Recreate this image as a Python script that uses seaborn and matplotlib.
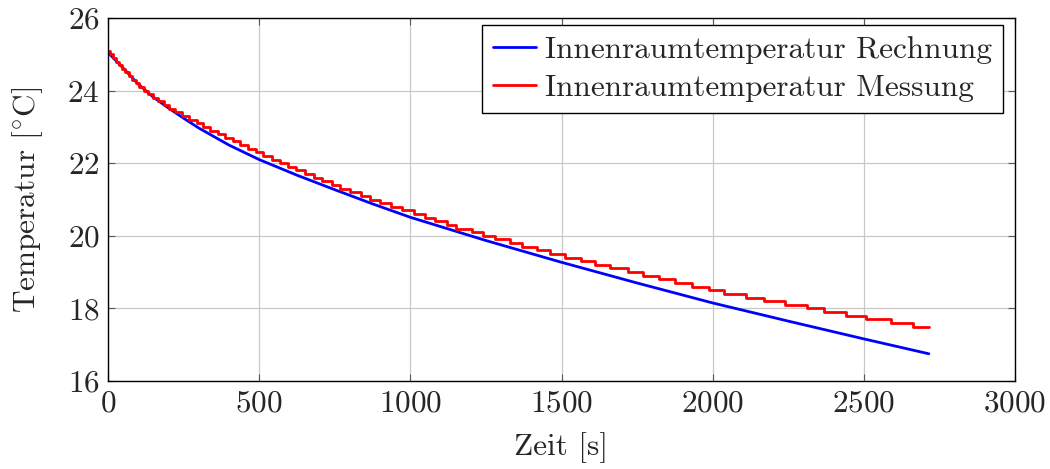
import matplotlib
matplotlib.use("Agg")
import matplotlib.pyplot as plt
import seaborn as sns
import pandas as pd

# Berechnete Innenraumtemperatur (Rechnung)
calc_time = [0, 50, 100, 150, 200, 250, 300, 400, 500, 625, 750, 875, 1000,
             1250, 1500, 1750, 2000, 2250, 2500, 2715]
calc_temp = [25.05, 24.62, 24.18, 23.82, 23.52, 23.24, 22.97, 22.50, 22.10,
             21.67, 21.27, 20.88, 20.51, 19.87, 19.27, 18.70, 18.15, 17.65,
             17.16, 16.75]

# Gemessene Innenraumtemperatur (Messung, 0.1 K Auflösung, Stufen)
meas_time = [0, 6, 16, 26, 36, 46, 57, 68, 80, 92, 104, 118, 133, 149, 166,
             184, 203, 223, 244, 268, 293, 314, 338, 363, 387, 412, 437, 463,
             490, 513, 541, 569, 594, 622, 652, 680, 709, 740, 768, 800, 836,
             866, 899, 936, 971, 1011, 1049, 1082, 1120, 1150, 1203, 1241,
             1280, 1330, 1368, 1418, 1463, 1512, 1563, 1611, 1660, 1721, 1771,
             1824, 1874, 1931, 1989, 2038, 2109, 2170, 2240, 2311, 2369, 2441,
             2508, 2589, 2661, 2716]
meas_temp = [25.1, 25.0, 24.9, 24.8, 24.7, 24.6, 24.5, 24.4, 24.3, 24.2, 24.1,
             24.0, 23.9, 23.8, 23.7, 23.6, 23.5, 23.4, 23.3, 23.2, 23.1, 23.0,
             22.9, 22.8, 22.7, 22.6, 22.5, 22.4, 22.3, 22.2, 22.1, 22.0, 21.9,
             21.8, 21.7, 21.6, 21.5, 21.4, 21.3, 21.2, 21.1, 21.0, 20.9, 20.8,
             20.7, 20.6, 20.5, 20.4, 20.3, 20.2, 20.1, 20.0, 19.9, 19.8, 19.7,
             19.6, 19.5, 19.4, 19.3, 19.2, 19.1, 19.0, 18.9, 18.8, 18.7, 18.6,
             18.5, 18.4, 18.3, 18.2, 18.1, 18.0, 17.9, 17.8, 17.7, 17.6, 17.5,
             17.5]

x_ticks = [0, 500, 1000, 1500, 2000, 2500, 3000]
y_ticks = [16, 18, 20, 22, 24, 26]

sns.set_style("ticks")
plt.rcParams["font.family"] = ["cmr10", "DejaVu Serif"]
plt.rcParams["mathtext.fontset"] = "cm"
plt.rcParams["axes.formatter.use_mathtext"] = True
plt.rcParams["axes.unicode_minus"] = False

FS = 22.5

df_calc = pd.DataFrame({"t": calc_time, "T": calc_temp})
df_meas = pd.DataFrame({"t": meas_time, "T": meas_temp})

fig = plt.figure(figsize=(10.5, 4.69), dpi=100)
ax = fig.add_axes([108 / 1050, 1 - 381 / 469, (1015 - 108) / 1050, (381 - 18) / 469])

sns.lineplot(data=df_calc, x="t", y="T", ax=ax, color="#0000ff", lw=2.0,
             label="Innenraumtemperatur Rechnung", sort=False, estimator=None)
sns.lineplot(data=df_meas, x="t", y="T", ax=ax, color="#ff0000", lw=2.0,
             drawstyle="steps-post", label="Innenraumtemperatur Messung",
             sort=False, estimator=None)

ax.set_xlim(0, 3000)
ax.set_ylim(16, 26)
ax.set_xticks(x_ticks)
ax.set_yticks(y_ticks)
ax.tick_params(direction="in", top=True, right=True, length=5, width=0.8,
               labelsize=FS, pad=6, color="#555555")
ax.grid(True, color="#c8c8c8", lw=0.9)
ax.set_axisbelow(True)
for s in ax.spines.values():
    s.set_color("black")
    s.set_linewidth(1.0)

ax.set_xlabel("Zeit [s]", fontsize=FS, labelpad=11)
ax.set_ylabel("Temperatur [$^{\\circ}$C]", fontsize=FS, labelpad=16)

leg = ax.legend(loc="upper right", bbox_to_anchor=(1 - 12 / 907, 1 - 7 / 363),
                borderaxespad=0, fontsize=FS, frameon=True, fancybox=False,
                handlelength=1.35, handletextpad=0.3, borderpad=0.35,
                labelspacing=0.33)
leg.get_frame().set_edgecolor("black")
leg.get_frame().set_linewidth(1.0)
leg.get_frame().set_alpha(1.0)

fig.savefig("out.png", dpi=100)
